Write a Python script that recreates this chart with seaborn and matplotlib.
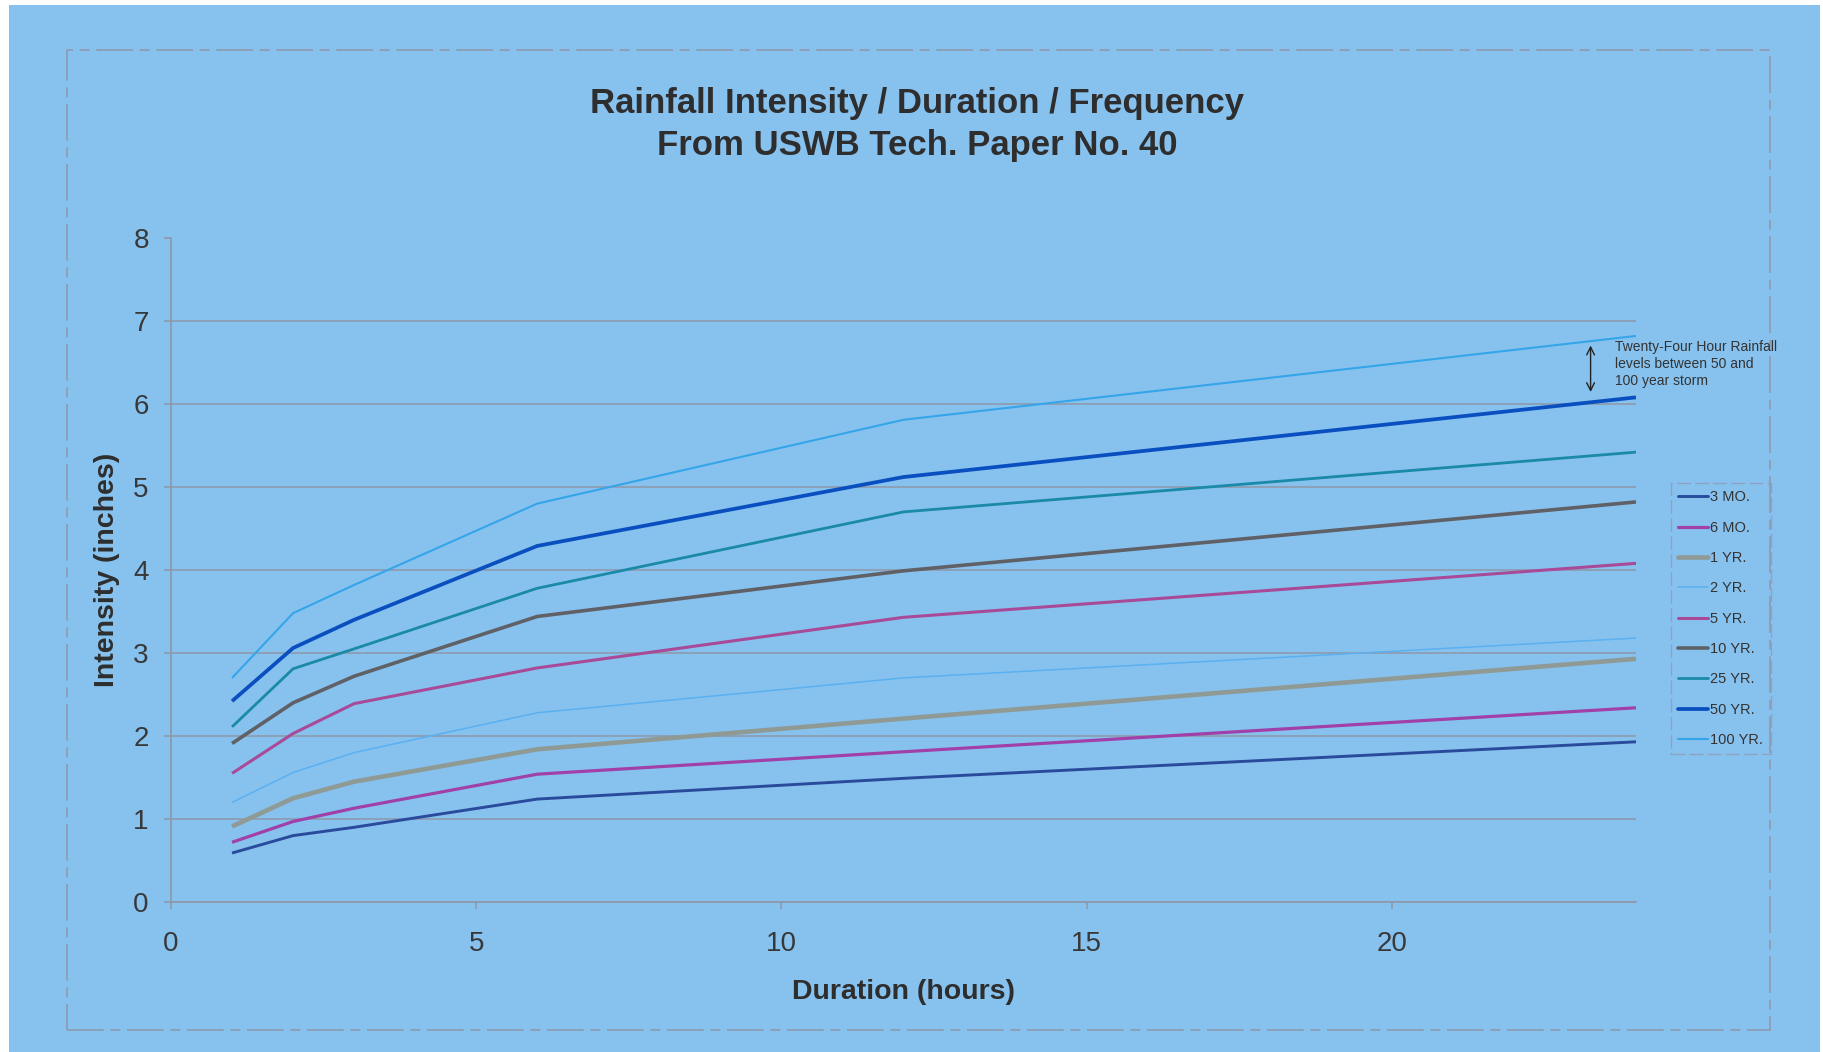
import matplotlib
matplotlib.use("Agg")
import matplotlib.pyplot as plt
from matplotlib.lines import Line2D
from matplotlib.patches import Rectangle
import seaborn as sns
import pandas as pd

# ---------------- data ----------------
durations = [1, 2, 3, 6, 12, 24]
freq_labels = ["3 MO.", "6 MO.", "1 YR.", "2 YR.", "5 YR.", "10 YR.", "25 YR.", "50 YR.", "100 YR."]
mo3 = [0.59, 0.80, 0.90, 1.24, 1.49, 1.93]
mo6 = [0.72, 0.97, 1.13, 1.54, 1.81, 2.34]
yr1 = [0.91, 1.25, 1.45, 1.84, 2.21, 2.93]
yr2 = [1.20, 1.56, 1.80, 2.28, 2.70, 3.18]
yr5 = [1.55, 2.03, 2.39, 2.82, 3.43, 4.08]
yr10 = [1.91, 2.40, 2.72, 3.44, 3.99, 4.82]
yr25 = [2.11, 2.81, 3.05, 3.78, 4.70, 5.42]
yr50 = [2.42, 3.06, 3.40, 4.29, 5.12, 6.08]
yr100 = [2.70, 3.48, 3.82, 4.80, 5.81, 6.82]
series = [mo3, mo6, yr1, yr2, yr5, yr10, yr25, yr50, yr100]
x_ticks = [0, 5, 10, 15, 20]
y_ticks = [0, 1, 2, 3, 4, 5, 6, 7, 8]
title_lines = ["Rainfall Intensity / Duration / Frequency", "From USWB Tech. Paper No. 40"]
note_text = "Twenty-Four Hour Rainfall\nlevels between 50 and\n100 year storm"

rows = []
for lab, vals in zip(freq_labels, series):
    for d, v in zip(durations, vals):
        rows.append({"Duration": d, "Intensity": v, "Freq": lab})
df = pd.DataFrame(rows)

# ---------------- style ----------------
colors = {
    "3 MO.": "#2a4b9b", "6 MO.": "#a040a8", "1 YR.": "#8f9a94",
    "2 YR.": "#5ab0f0", "5 YR.": "#a84a98", "10 YR.": "#5f6166",
    "25 YR.": "#1a8aa8", "50 YR.": "#0a4fbf", "100 YR.": "#35a5ea",
}
widths = {
    "3 MO.": 2.1, "6 MO.": 2.3, "1 YR.": 3.3, "2 YR.": 1.1, "5 YR.": 2.2,
    "10 YR.": 2.6, "25 YR.": 2.0, "50 YR.": 2.7, "100 YR.": 1.5,
}

sns.set_theme(style="ticks")
plt.rcParams["font.family"] = ["Liberation Sans", "DejaVu Sans"]

BG = "#87c2ef"
GRID = "#8e98a6"
TXT = "#2e2e2e"
W, H = 1823, 1052

fig = plt.figure(figsize=(W / 100, H / 100), dpi=100, facecolor="white")
# blue background (thin white margin at top/left as in the scan)
fig.patches.append(Rectangle((9 / W, 0), (1820 - 9) / W, 1 - 5 / H,
                             transform=fig.transFigure, facecolor=BG,
                             edgecolor="none", zorder=-10))
# inner dashed chart-area border
fig.patches.append(Rectangle((67 / W, 1 - 1030 / H), (1770 - 67) / W, (1030 - 50) / H,
                             transform=fig.transFigure, facecolor="none",
                             edgecolor="#8f9ab0", lw=1.2, linestyle=(0, (22, 4, 6, 4)),
                             zorder=-5))

ax = fig.add_axes([171 / W, 1 - 902 / H, (1636 - 171) / W, (902 - 238) / H])
ax.patch.set_alpha(0)

sns.lineplot(data=df, x="Duration", y="Intensity", hue="Freq", size="Freq",
             hue_order=freq_labels, size_order=freq_labels,
             palette=colors, sizes=widths, legend=False, ax=ax,
             solid_joinstyle="round", solid_capstyle="butt")

ax.set_xlim(0, 24)
ax.set_ylim(0, 8)
ax.set_xticks(x_ticks)
ax.set_yticks(y_ticks)
ax.tick_params(axis="both", colors=GRID, labelcolor="#383838", labelsize=20,
               length=5, width=1.1, direction="out")
ax.tick_params(axis="y", pad=11)
ax.tick_params(axis="x", pad=16)
ax.yaxis.grid(True, color=GRID, lw=1.1)
ax.get_ygridlines()[-1].set_visible(False)
for s in ["top", "right"]:
    ax.spines[s].set_visible(False)
for s in ["left", "bottom"]:
    ax.spines[s].set_color(GRID)
    ax.spines[s].set_linewidth(1.2)

ax.set_xlabel("Duration (hours)", fontsize=20.5, fontweight="bold", color=TXT, labelpad=15.5)
ax.set_ylabel("Intensity (inches)", fontsize=20.5, fontweight="bold", color=TXT, labelpad=9.5)

# title (two lines)
fig.text(917 / W, 1 - 113 / H, title_lines[0], ha="center", va="baseline",
         fontsize=25, fontweight="bold", color=TXT)
fig.text(917 / W, 1 - 155 / H, title_lines[1], ha="center", va="baseline",
         fontsize=25, fontweight="bold", color=TXT)

# legend
handles = [Line2D([0], [0], color=colors[l], lw=widths[l]) for l in freq_labels]
leg = ax.legend(handles, freq_labels, loc="upper left",
                bbox_to_anchor=(1671 / W, 1 - 483 / H), bbox_transform=fig.transFigure,
                fontsize=10.5, frameon=True, fancybox=False, handlelength=2.05,
                handletextpad=0.15, labelspacing=1.12, borderpad=0.5,
                borderaxespad=0, labelcolor="#333333")
fr = leg.get_frame()
fr.set_facecolor("none")
fr.set_edgecolor("#8f9ab0")
fr.set_linewidth(1.0)
fr.set_linestyle((0, (10, 3)))

# annotation: double arrow and note
ax.annotate("", xy=(0.969, 0.768), xytext=(0.969, 0.838), xycoords="axes fraction",
            textcoords="axes fraction",
            arrowprops=dict(arrowstyle="<->", color="#222222", lw=1.0,
                            mutation_scale=14, shrinkA=0, shrinkB=0))
ax.text(0.986, 0.846, note_text, transform=ax.transAxes, ha="left", va="top",
        fontsize=10, color="#333333", linespacing=1.25, clip_on=False)

fig.savefig("out.png", dpi=100, facecolor=fig.get_facecolor())
